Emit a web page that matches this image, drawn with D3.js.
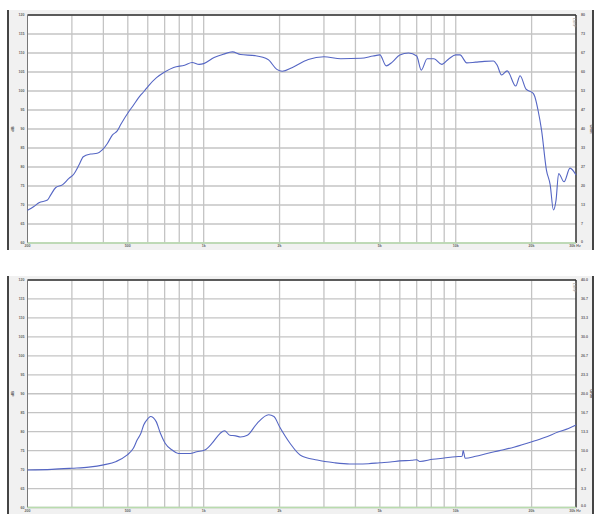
<!DOCTYPE html>
<html><head><meta charset="utf-8">
<script src="https://cdn.jsdelivr.net/npm/d3@7"></script>
<style>body{margin:0;background:#fff}svg{display:block}</style>
</head><body><svg id="c" width="600" height="523"></svg>
<script>
// ---- data ----
const splFreq = [200,212,222,240,247,259,275,292,305,320,333,356,378,396,415,434,454,470,505,523,562,578,603,650,700,760,840,900,960,1000,1100,1200,1300,1400,1600,1800,1950,2050,2250,2600,3000,3500,4200,4700,5000,5300,5600,6000,6500,7000,7300,7700,8200,8800,9400,10000,10400,11060,12000,13000,14100,14600,15200,16000,17300,18000,19000,20300,20600,21200,21900,22900,23700,24400,25000,25600,26900,28400,30000];
const splDb   = [68.6,69.6,70.6,71.3,72.6,74.6,75.3,77.0,78.1,80.5,82.7,83.4,83.6,84.5,86.2,88.4,89.5,91.3,94.6,96.0,98.9,99.8,101.3,103.5,105.0,106.2,106.8,107.5,107.0,107.2,108.8,109.7,110.3,109.6,109.3,108.3,105.7,105.2,106.2,108.3,109.0,108.5,108.6,109.2,109.5,106.6,107.6,109.5,110.0,109.2,105.5,108.5,108.5,107.0,108.5,109.5,109.5,107.4,107.6,107.8,107.9,106.8,104.2,105.3,101.3,104.0,100.5,99.4,98.5,95.0,89.7,79.2,75.3,68.7,71.3,78.3,76.1,79.7,77.9];
const impFreq = [200,250,300,350,401,450,496,526,545,563,578,600,615,648,674,703,750,794,884,938,1010,1080,1160,1210,1270,1340,1400,1490,1630,1810,1900,2000,2200,2420,2820,3300,3800,4060,4500,5000,5500,6000,6700,7000,7200,8100,9000,10000,10600,10700,10900,12000,13300,14900,17000,20200,22500,25600,28000,30000];
const impOhm  = [6.6,6.7,6.9,7.1,7.5,8.1,9.2,10.4,11.9,13.0,14.5,15.6,16.0,15.1,13.0,11.3,10.1,9.5,9.5,9.8,10.1,11.3,13.0,13.5,12.7,12.6,12.4,12.7,14.8,16.3,16.0,14.2,11.3,9.2,8.35,7.87,7.65,7.65,7.7,7.87,8.0,8.2,8.3,8.4,8.1,8.47,8.7,8.93,9.0,10.0,8.65,9.0,9.5,10.0,10.6,11.6,12.3,13.3,13.9,14.5];
const dbTicks = [60,65,70,75,80,85,90,95,100,105,110,115,120];
const ohmTicksTop = ["0","7","13","20","27","33","40","47","53","60","67","73","80"];
const ohmTicksBottom = ["0.0","3.3","6.7","10.0","13.3","16.7","20.0","23.3","26.7","30.0","33.3","36.7","40.0"];
const freqLabelVals = [200,500,1000,2000,5000,10000,20000,30000];
const freqLabelText = ["200","500","1k","2k","5k","10k","20k","30k Hz"];
const gridFreqs = [300,400,500,600,700,800,900,1000,2000,3000,4000,5000,6000,7000,8000,9000,10000,20000];

// ---- drawing ----
const svg = d3.select("#c");
const L = 27.5, R = 576;
const x = d3.scaleLog().domain([200,30000]).range([L,R]);
const FONT = "Liberation Sans";
const FS = 3.6;

const panels = [
  {ptop:10, pbot:250, top:15, bot:243, right:ohmTicksTop, rmax:80, curve:null},
  {ptop:276, pbot:514, top:280, bot:507.5, right:ohmTicksBottom, rmax:40, curve:"imp"}
];

panels.forEach(p => {
  const g = svg.append("g");
  g.append("rect").attr("x",8).attr("y",p.ptop).attr("width",585).attr("height",p.pbot-p.ptop).attr("fill","#f1f1f1");
  g.append("line").attr("x1",8).attr("x2",8).attr("y1",p.ptop).attr("y2",p.pbot).attr("stroke","#444").attr("stroke-width",2);
  g.append("line").attr("x1",593).attr("x2",593).attr("y1",p.ptop).attr("y2",p.pbot).attr("stroke","#444").attr("stroke-width",2);
  const y = d3.scaleLinear().domain([60,120]).range([p.bot,p.top]);
  const yr = d3.scaleLinear().domain([0,p.rmax]).range([p.bot,p.top]);
  g.append("rect").attr("x",L).attr("y",p.top).attr("width",R-L).attr("height",p.bot-p.top).attr("fill","#fff");
  // grid
  g.selectAll(".hg").data(dbTicks).join("line")
    .attr("x1",L).attr("x2",R).attr("y1",d=>y(d)).attr("y2",d=>y(d))
    .attr("stroke","#c4c4c4").attr("stroke-width",1.3);
  g.selectAll(".vg").data(gridFreqs).join("line")
    .attr("x1",d=>x(d)).attr("x2",d=>x(d)).attr("y1",p.top).attr("y2",p.bot)
    .attr("stroke","#c4c4c4").attr("stroke-width",1.3);
  // borders
  g.append("line").attr("x1",L).attr("x2",R).attr("y1",p.top).attr("y2",p.top).attr("stroke","#333").attr("stroke-width",1.5);
  g.append("line").attr("x1",R).attr("x2",R).attr("y1",p.top).attr("y2",p.bot).attr("stroke","#333").attr("stroke-width",1.5);
  g.append("line").attr("x1",L).attr("x2",L).attr("y1",p.top).attr("y2",p.bot).attr("stroke","#777").attr("stroke-width",1);
  g.append("line").attr("x1",L).attr("x2",R).attr("y1",p.bot).attr("y2",p.bot).attr("stroke","#b9dcae").attr("stroke-width",1.3);
  // left axis labels
  g.selectAll(".lt").data(dbTicks).join("text")
    .attr("x",24.5).attr("y",d=>y(d)+1.3).attr("text-anchor","end")
    .attr("font-family",FONT).attr("font-size",FS).attr("font-weight","bold").attr("fill","#666")
    .text(d=>d);
  // right axis labels
  g.selectAll(".rt").data(p.right).join("text")
    .attr("x",581).attr("y",(d,i)=>yr(i*p.rmax/12)+(i===0?-0.5:1.3)).attr("text-anchor","start")
    .attr("font-family",FONT).attr("font-size",FS).attr("font-weight","bold").attr("fill","#666")
    .text(d=>d);
  // x labels
  g.selectAll(".xt").data(freqLabelVals).join("text")
    .attr("x",(d,i)=> i===freqLabelVals.length-1 ? x(d)-1 : x(d)).attr("y",p.bot+4.3).attr("text-anchor","middle")
    .attr("font-family",FONT).attr("font-size",FS).attr("font-weight","bold").attr("fill","#666")
    .text((d,i)=>freqLabelText[i]);
  // axis titles
  const cy = (p.top+p.bot)/2;
  g.append("text").attr("transform",`translate(13.5,${cy}) rotate(-90)`).attr("text-anchor","middle")
    .attr("font-family",FONT).attr("font-size",4).attr("font-weight","bold").attr("fill","#555").text("dB");
  g.append("text").attr("transform",`translate(590,${cy}) rotate(90)`).attr("text-anchor","middle")
    .attr("font-family",FONT).attr("font-size",4).attr("font-weight","bold").attr("fill","#555").text("Ohm");
  g.append("text").attr("transform",`translate(572.5,${p.top+3}) rotate(90)`).attr("text-anchor","start")
    .attr("font-family",FONT).attr("font-size",4).attr("fill","#999").text("LIMP");

  // curves
  if (p.curve === null) {
    const line = d3.line().x((d,i)=>x(splFreq[i])).y(d=>y(d)).curve(d3.curveMonotoneX);
    g.append("path").attr("d",line(splDb)).attr("fill","none").attr("stroke","#5566c4").attr("stroke-width",1.1);
  } else {
    const line = d3.line().x((d,i)=>x(impFreq[i])).y(d=>yr(d)).curve(d3.curveMonotoneX);
    g.append("path").attr("d",line(impOhm)).attr("fill","none").attr("stroke","#5566c4").attr("stroke-width",1.1);
  }
});
</script></body></html>
